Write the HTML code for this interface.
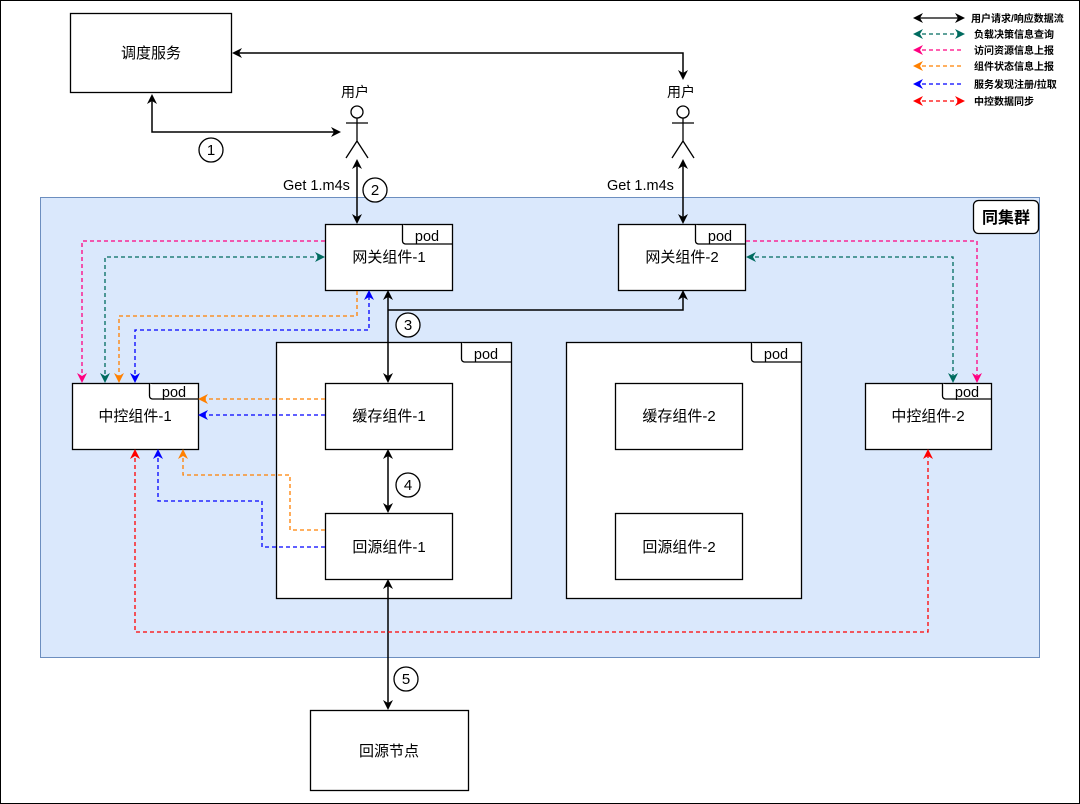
<!DOCTYPE html>
<html><head><meta charset="utf-8"><style>
html,body{margin:0;padding:0;background:#fff}
svg{display:block}
text{font-family:"Liberation Sans","Noto Sans CJK SC",sans-serif;fill:#000}
</style></head><body>
<svg width="1080" height="804" viewBox="0 0 1080 804" xmlns="http://www.w3.org/2000/svg">
<defs>
<marker id="ak" markerWidth="10" markerHeight="10" refX="8" refY="5" orient="auto-start-reverse" markerUnits="userSpaceOnUse"><path d="M0,0 L10,5 L0,10 L3,5z" fill="#000"/></marker>
<marker id="at" markerWidth="10" markerHeight="10" refX="8" refY="5" orient="auto-start-reverse" markerUnits="userSpaceOnUse"><path d="M0,0 L10,5 L0,10 L3,5z" fill="#006b5f"/></marker>
<marker id="ap" markerWidth="10" markerHeight="10" refX="8" refY="5" orient="auto-start-reverse" markerUnits="userSpaceOnUse"><path d="M0,0 L10,5 L0,10 L3,5z" fill="#ff0080"/></marker>
<marker id="ao" markerWidth="10" markerHeight="10" refX="8" refY="5" orient="auto-start-reverse" markerUnits="userSpaceOnUse"><path d="M0,0 L10,5 L0,10 L3,5z" fill="#ff8000"/></marker>
<marker id="ab" markerWidth="10" markerHeight="10" refX="8" refY="5" orient="auto-start-reverse" markerUnits="userSpaceOnUse"><path d="M0,0 L10,5 L0,10 L3,5z" fill="#0000ff"/></marker>
<marker id="ar" markerWidth="10" markerHeight="10" refX="8" refY="5" orient="auto-start-reverse" markerUnits="userSpaceOnUse"><path d="M0,0 L10,5 L0,10 L3,5z" fill="#ff0000"/></marker>
</defs>
<rect x="0.5" y="0.5" width="1079" height="803" fill="#fff" stroke="#000"/>
<rect x="40.5" y="197.5" width="999" height="460" fill="#dae8fc" stroke="#6c8ebf"/>
<rect x="973.5" y="200.5" width="65" height="33" rx="5" fill="#fff" stroke="#000" stroke-width="1.3"/>
<text x="1006" y="223" font-size="16" font-weight="bold" text-anchor="middle">同集群</text>

<g stroke="#000" fill="#fff" stroke-width="1.3">
<rect x="70.5" y="13.5" width="161" height="79"/>
<rect x="276.5" y="342.5" width="235" height="256"/>
<rect x="566.5" y="342.5" width="235" height="256"/>
<rect x="325.5" y="224.5" width="127" height="66"/>
<rect x="618.5" y="224.5" width="127" height="66"/>
<rect x="325.5" y="383.5" width="127" height="66"/>
<rect x="325.5" y="513.5" width="127" height="66"/>
<rect x="615.5" y="383.5" width="127" height="66"/>
<rect x="615.5" y="513.5" width="127" height="66"/>
<rect x="72.5" y="383.5" width="126" height="66"/>
<rect x="865.5" y="383.5" width="126" height="66"/>
<rect x="310.5" y="710.5" width="158" height="80"/>
<path d="M402.5,224.5 V241 a3,3 0 0 0 3,3 H452.5"/>
<path d="M695.5,224.5 V241 a3,3 0 0 0 3,3 H745.5"/>
<path d="M461.5,342.5 V359 a3,3 0 0 0 3,3 H511.5"/>
<path d="M751.5,342.5 V359 a3,3 0 0 0 3,3 H801.5"/>
<path d="M149.5,383.5 V396 a3,3 0 0 0 3,3 H198.5"/>
<path d="M942.5,383.5 V396 a3,3 0 0 0 3,3 H991.5"/>
</g>
<g font-size="14.5">
<text x="427" y="241" text-anchor="middle">pod</text>
<text x="720" y="241" text-anchor="middle">pod</text>
<text x="486" y="359" text-anchor="middle">pod</text>
<text x="776" y="359" text-anchor="middle">pod</text>
<text x="174" y="397" text-anchor="middle">pod</text>
<text x="967" y="397" text-anchor="middle">pod</text>
</g>
<g font-size="15" text-anchor="middle">
<text x="151" y="58">调度服务</text>
<text x="389" y="262">网关组件-1</text>
<text x="682" y="262">网关组件-2</text>
<text x="389" y="421">缓存组件-1</text>
<text x="389" y="552">回源组件-1</text>
<text x="679" y="421">缓存组件-2</text>
<text x="679" y="552">回源组件-2</text>
<text x="135" y="421">中控组件-1</text>
<text x="928" y="421">中控组件-2</text>
<text x="389" y="756">回源节点</text>
</g>
<g stroke="#000" stroke-width="1.3" fill="#fff">
<circle cx="357" cy="112" r="6"/><path d="M357,118 V141 M346,123 H368 M357,141 L346,158 M357,141 L368,158"/>
<circle cx="683" cy="112" r="6"/><path d="M683,118 V141 M672,123 H694 M683,141 L672,158 M683,141 L694,158"/>
</g>
<text x="355" y="97" font-size="14" text-anchor="middle">用户</text>
<text x="681" y="97" font-size="14" text-anchor="middle">用户</text>
<text x="283" y="190" font-size="14.5">Get 1.m4s</text>
<text x="607" y="190" font-size="14.5">Get 1.m4s</text>

<g stroke="#000" stroke-width="1.5" fill="none">
<path d="M152,96 V132 H339" marker-start="url(#ak)" marker-end="url(#ak)"/>
<path d="M234,53 H683 V78" marker-start="url(#ak)" marker-end="url(#ak)"/>
<path d="M357,161 V222" marker-start="url(#ak)" marker-end="url(#ak)"/>
<path d="M683,161 V222" marker-start="url(#ak)" marker-end="url(#ak)"/>
<path d="M388,292 V381" marker-start="url(#ak)" marker-end="url(#ak)"/>
<path d="M388,310 H683 V292" marker-end="url(#ak)"/>
<path d="M388,451 V511" marker-start="url(#ak)" marker-end="url(#ak)"/>
<path d="M388,581 V708" marker-start="url(#ak)" marker-end="url(#ak)"/>
</g>
<g stroke="#000" fill="#fff" stroke-width="1.3">
<circle cx="211" cy="150" r="12"/><circle cx="375" cy="190" r="12"/><circle cx="408" cy="325" r="12"/><circle cx="408" cy="485" r="12"/><circle cx="406" cy="679" r="12"/>
</g>
<g font-size="15" text-anchor="middle">
<text x="211" y="155">1</text><text x="375" y="195">2</text><text x="408" y="330">3</text><text x="408" y="490">4</text><text x="406" y="684">5</text>
</g>

<g fill="none" stroke-width="1.3" stroke-dasharray="4,3">
<path d="M325,241 H82 V381" stroke="#ff0080" marker-end="url(#ap)"/>
<path d="M105,381 V257 H323" stroke="#006b5f" marker-start="url(#at)" marker-end="url(#at)"/>
<path d="M357,291 V316 H119 V381" stroke="#ff8000" marker-end="url(#ao)"/>
<path d="M135,381 V330 H369 V292" stroke="#0000ff" marker-start="url(#ab)" marker-end="url(#ab)"/>
<path d="M746,241 H977 V381" stroke="#ff0080" marker-end="url(#ap)"/>
<path d="M748,257 H953 V381" stroke="#006b5f" marker-start="url(#at)" marker-end="url(#at)"/>
<path d="M325,399 H200" stroke="#ff8000" marker-end="url(#ao)"/>
<path d="M325,415 H200" stroke="#0000ff" marker-end="url(#ab)"/>
<path d="M325,530 H290 V475 H183 V451" stroke="#ff8000" marker-end="url(#ao)"/>
<path d="M325,547 H262 V501 H158 V451" stroke="#0000ff" marker-end="url(#ab)"/>
<path d="M135,451 V632 H928 V451" stroke="#ff0000" marker-start="url(#ar)" marker-end="url(#ar)"/>
</g>

<g fill="none" stroke-width="1.3">
<path d="M915,18 H963" stroke="#000" marker-start="url(#ak)" marker-end="url(#ak)"/>
<path d="M915,34 H963" stroke="#006b5f" stroke-dasharray="4,3" marker-start="url(#at)" marker-end="url(#at)"/>
<path d="M915,50 H963" stroke="#ff0080" stroke-dasharray="4,3" marker-start="url(#ap)"/>
<path d="M915,66 H963" stroke="#ff8000" stroke-dasharray="4,3" marker-start="url(#ao)"/>
<path d="M915,84 H963" stroke="#0000ff" stroke-dasharray="4,3" marker-start="url(#ab)"/>
<path d="M915,101 H963" stroke="#ff0000" stroke-dasharray="4,3" marker-start="url(#ar)" marker-end="url(#ar)"/>
</g>
<g font-size="10" font-weight="bold">
<text x="971" y="22">用户请求/响应数据流</text>
<text x="974" y="38">负载决策信息查询</text>
<text x="974" y="54">访问资源信息上报</text>
<text x="974" y="70">组件状态信息上报</text>
<text x="974" y="88">服务发现注册/拉取</text>
<text x="974" y="105">中控数据同步</text>
</g>
</svg>
</body></html>
